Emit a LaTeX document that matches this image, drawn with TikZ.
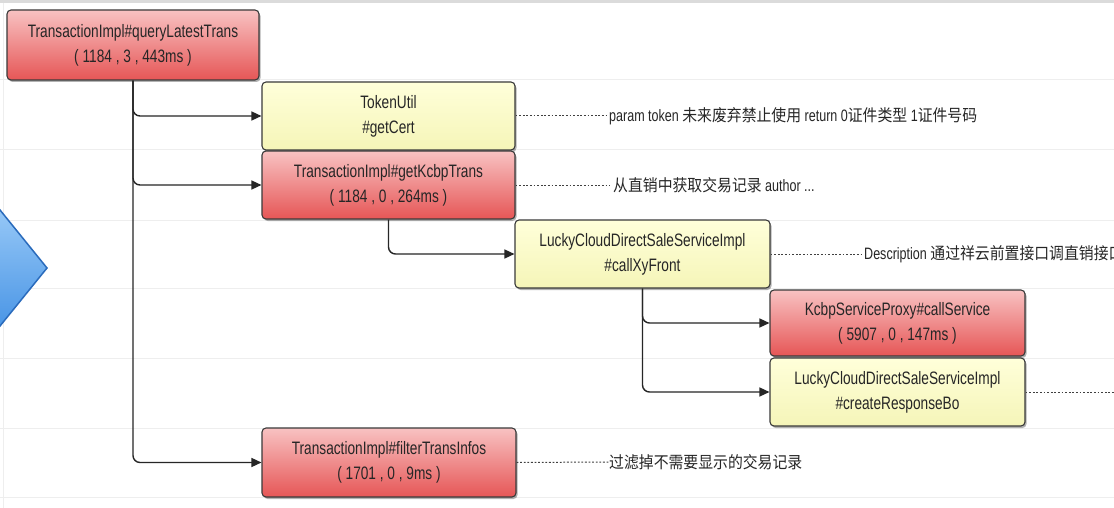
\documentclass[tikz,border=0pt]{standalone}
\usepackage{fontspec}
\setmainfont[FakeStretch=0.76]{Liberation Sans}
\newfontfamily\cjk[FakeStretch=0.9]{Noto Sans CJK SC}
\usetikzlibrary{arrows.meta,shadows}

\definecolor{redtop}{HTML}{F8C2C2}
\definecolor{redbot}{HTML}{E65656}
\definecolor{yeltop}{HTML}{FFFFDA}
\definecolor{yelbot}{HTML}{F5F5B8}
\definecolor{edgegray}{HTML}{3A3A3A}
\definecolor{txtgray}{HTML}{262626}
\definecolor{bluetop}{HTML}{A6D2FA}
\definecolor{bluebot}{HTML}{3A8BE2}
\definecolor{blueedge}{HTML}{2A6BBC}
\definecolor{rulegray}{HTML}{EEEEEE}

\tikzset{
  callbox/.style={draw=edgegray, line width=1.1pt, rounded corners=4pt,
    minimum width=253pt, minimum height=68pt, inner sep=0pt, align=center,
    text=txtgray, font=\fontsize{18}{25}\selectfont,
    drop shadow={shadow xshift=1.5pt, shadow yshift=-2pt, opacity=0.3, fill=black}},
  slowbox/.style={callbox, top color=redtop, bottom color=redbot},
  fastbox/.style={callbox, top color=yeltop, bottom color=yelbot},
  callarrow/.style={draw=black!85, line width=1.4pt, rounded corners=7pt,
    -{Triangle[length=10pt,width=9pt]}},
  notelink/.style={draw=black!75, line width=1pt, dash pattern=on 1.8pt off 1.8pt},
  notetext/.style={anchor=west, inner sep=0pt, text=txtgray,
    font=\fontsize{16.5}{20}\selectfont},
  rowrule/.style={draw=rulegray, line width=1pt}
}

\begin{document}
\begin{tikzpicture}[x=1pt, y=-1pt]
  \useasboundingbox (0,0) rectangle (1114,508);
  \fill[white] (0,0) rectangle (1114,508);

  % page background: header strip, row rules, left border
  \fill[black!14] (0,0) rectangle (1114,3);
  \foreach \yy in {80,150,220,288,358,428,497}
    \draw[rowrule] (0,\yy) -- (1114,\yy);
  \draw[rowrule] (3.5,3) -- (3.5,508);

  % blue pointer on the left edge
  \begin{scope}
    \clip (0,0) rectangle (1114,508);
    \draw[draw=blueedge, line width=1.5pt, top color=bluetop, bottom color=bluebot]
      (-20,185.3) -- (47,268) -- (-20,350.7) -- cycle;
  \end{scope}

  % call nodes
  \node[slowbox, minimum width=252pt, minimum height=70pt] (root) at (133,45)
    {TransactionImpl\#queryLatestTrans\\( 1184 , 3 , 443ms )};
  \node[fastbox] (cert) at (388.5,116) {TokenUtil\\\#getCert};
  \node[slowbox] (kcbp) at (388.5,185)
    {TransactionImpl\#getKcbpTrans\\( 1184 , 0 , 264ms )};
  \node[fastbox, minimum width=255pt] (front) at (642.5,254)
    {LuckyCloudDirectSaleServiceImpl\\\#callXyFront};
  \node[slowbox, minimum width=255pt, minimum height=66pt] (proxy) at (897.5,323)
    {KcbpServiceProxy\#callService\\( 5907 , 0 , 147ms )};
  \node[fastbox, minimum width=255pt] (resp) at (897.5,392)
    {LuckyCloudDirectSaleServiceImpl\\\#createResponseBo};
  \node[slowbox, minimum width=254pt, minimum height=69pt] (filter) at (389,462.5)
    {TransactionImpl\#filterTransInfos\\( 1701 , 0 , 9ms )};

  % call tree connectors
  \draw[callarrow] (root.south) |- (cert.west);
  \draw[callarrow] (root.south) |- (kcbp.west);
  \draw[callarrow] (root.south) |- (filter.west);
  \draw[callarrow] (kcbp.south) |- (front.west);
  \draw[callarrow] (front.south) |- (proxy.west);
  \draw[callarrow] (front.south) |- (resp.west);

  % method comments
  \node[notetext] (certnote) at (609,116)
    {param token {\cjk 未来废弃禁止使用} return 0{\cjk 证件类型} 1{\cjk 证件号码}};
  \node[notetext] (kcbpnote) at (613,185) {{\cjk 从直销中获取交易记录} author ...};
  \node[notetext] (frontnote) at (864,254)
    {Description {\cjk 通过祥云前置接口调直销接口}};
  \node[notetext] (filternote) at (609,462) {{\cjk 过滤掉不需要显示的交易记录}};
  \coordinate (respnote) at (1116,392);

  \draw[notelink] (cert.east) -- (certnote.west);
  \draw[notelink] (kcbp.east) -- ([xshift=-3pt]kcbpnote.west);
  \draw[notelink] (front.east) -- (frontnote.west);
  \draw[notelink] (resp.east) -- (respnote);
  \draw[notelink] (filter.east) -- (filternote.west);
\end{tikzpicture}
\end{document}
